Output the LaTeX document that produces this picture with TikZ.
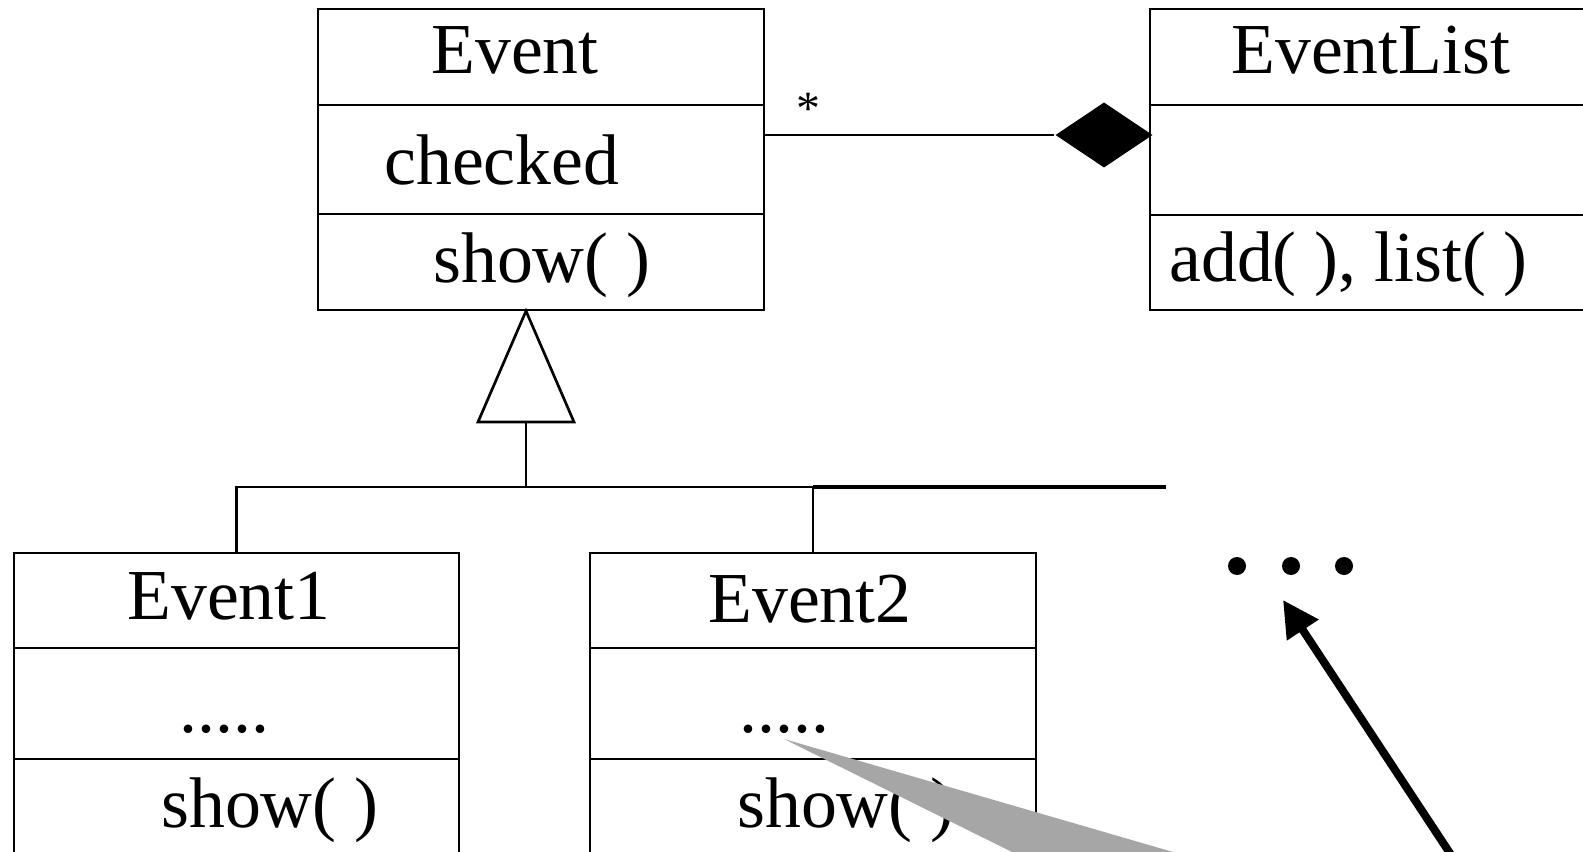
\documentclass[tikz,border=0pt]{standalone}
\usepackage{fontspec}
\setmainfont{Liberation Serif}
\usetikzlibrary{arrows.meta, shapes.geometric, positioning}
\definecolor{callout}{HTML}{A6A6A6}

\tikzset{
  umlbox/.style={draw, line width=1.9pt, inner sep=0pt},
  umltxt/.style={inner sep=0pt, anchor=base west, font=\fontsize{51}{60}\selectfont},
}

\begin{document}
\begin{tikzpicture}[x=0.025cm, y=-0.025cm, line width=1.9pt]
        \useasboundingbox (0,0) rectangle (1583,852);
        \clip (0,0) rectangle (1583,852);

        % class boxes
        \node[umlbox, minimum width=11.15cm, minimum height=7.525cm] (event) at (541,159.5) {};
        \node[umlbox, minimum width=12.5cm, minimum height=7.525cm] (eventlist) at (1400,159.5) {};
        \node[umlbox, minimum width=11.125cm, minimum height=8.675cm] (event1) at (236.5,726.5) {};
        \node[umlbox, minimum width=11.15cm, minimum height=8.675cm] (event2) at (813,726.5) {};

        \draw (event.west |- 0,105) -- (event.east |- 0,105);
        \draw (event.west |- 0,214) -- (event.east |- 0,214);
        \draw (eventlist.west |- 0,105) -- (eventlist.east |- 0,105);
        \draw (eventlist.west |- 0,215) -- (eventlist.east |- 0,215);
        \draw (event1.west |- 0,648) -- (event1.east |- 0,648);
        \draw (event1.west |- 0,759) -- (event1.east |- 0,759);
        \draw (event2.west |- 0,648) -- (event2.east |- 0,648);
        \draw (event2.west |- 0,759) -- (event2.east |- 0,759);

        \node[umltxt] (eventname) at (430,74) {Event};
        \node[umltxt] (eventattr) at (383,185) {checked};
        \node[umltxt] (eventop) at (432,283) {show( )};
        \node[umltxt] (listname) at (1230,74) {EventList};
        \node[umltxt] (listop) at (1168,282) {add( ), list( )};
        \node[umltxt] (e1name) at (126,619) {Event1};
        \node[umltxt] (e1attr) at (178,732) {.....};
        \node[umltxt] (e1op) at (160,827) {show( )};
        \node[umltxt] (e2name) at (707,622) {Event2};
        \node[umltxt] (e2attr) at (738,732) {.....};
        \node[umltxt] (e2op) at (736,827) {show( )};

        % aggregation
        \node[diamond, fill, minimum width=2.45cm, minimum height=1.65cm, inner sep=0pt] (agg) at (1104,135) {};
        \draw (event.east |- agg) -- (agg.west);
        \node[inner sep=0pt, anchor=base, font=\fontsize{34}{40}\selectfont] (mult) at (808,125) {*};

        % generalization
        \coordinate (genTip) at (526,311);
        \coordinate (genBase) at (526,422);
        \coordinate (fork) at (526,487);
        \coordinate (moreEnd) at (1166,487);
        \draw (genTip) -- (574,422) -- (478,422) -- cycle;
        \draw (genBase) -- (fork);
        \draw (event1.north) |- (event2.north |- fork) -- (event2.north);
        \draw[line width=2.8pt] (event2.north |- fork) -- (moreEnd);

        \foreach \x in {1237,1291,1344}
            \fill (\x,566) circle (0.225cm);

        % pointers
        \coordinate (attrPtr) at (784,739);
        \fill[callout] (attrPtr) -- (1012,852) -- (1173,852) -- cycle;
        \coordinate (moreTip) at (1283,600);
        \coordinate (arrowFoot) at (1461,870);
        \draw[-{Triangle[length=0.9cm,width=0.9cm]}, line width=5.7pt] (arrowFoot) -- (moreTip);
\end{tikzpicture}
\end{document}
